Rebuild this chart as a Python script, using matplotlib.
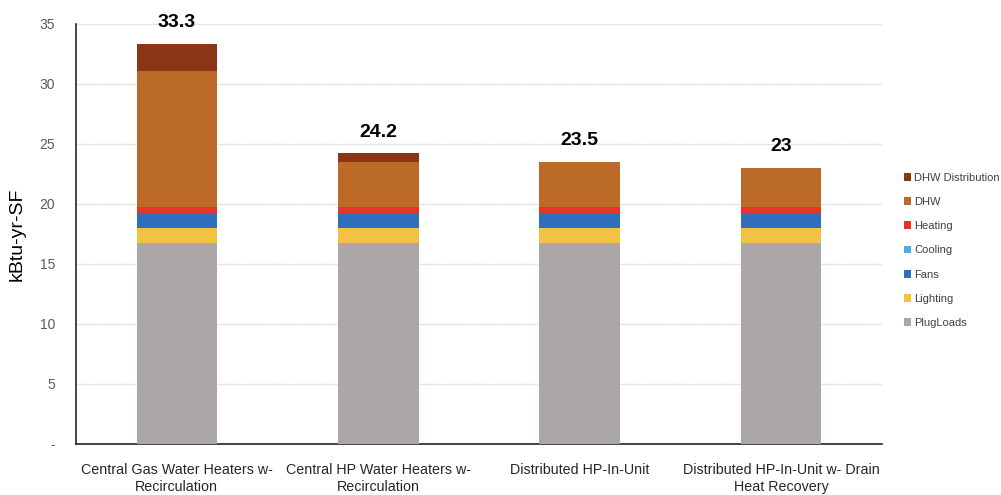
import numpy as np
import matplotlib.pyplot as plt
from matplotlib.ticker import FuncFormatter

plt.rcParams['font.family'] = ['Liberation Sans', 'DejaVu Sans']

categories = ['Central Gas Water Heaters w-\nRecirculation',
              'Central HP Water Heaters w-\nRecirculation',
              'Distributed HP-In-Unit',
              'Distributed HP-In-Unit w- Drain\nHeat Recovery']
plug_loads = [16.7, 16.7, 16.7, 16.7]
lighting = [1.3, 1.3, 1.3, 1.3]
fans = [1.15, 1.15, 1.15, 1.15]
cooling = [0.0, 0.0, 0.0, 0.0]
heating = [0.55, 0.55, 0.55, 0.55]
dhw = [11.4, 3.8, 3.8, 3.3]
dhw_dist = [2.2, 0.7, 0.0, 0.0]
totals = [33.3, 24.2, 23.5, 23]

series = [('PlugLoads', plug_loads, '#aba7a8'),
          ('Lighting', lighting, '#f4c242'),
          ('Fans', fans, '#2f6eba'),
          ('Cooling', cooling, '#4bace8'),
          ('Heating', heating, '#e8332a'),
          ('DHW', dhw, '#bc6a27'),
          ('DHW Distribution', dhw_dist, '#8b3716')]

fig = plt.figure(figsize=(10.01, 4.95), dpi=100)
ax = fig.add_axes([0.076, 0.103, 0.805, 0.849])

x = np.arange(len(categories))
bottom = np.zeros(len(categories))
handles = []
for name, vals, col in series:
    b = ax.bar(x, vals, 0.4, bottom=bottom, color=col, label=name, zorder=3)
    handles.append(b)
    bottom += np.array(vals)

# totals above each stack
for xi, t in zip(x, totals):
    ax.text(xi, t + 1.4, f'{t:g}', ha='center', va='baseline',
            fontsize=14, fontweight='bold', color='black')

ax.set_xlim(-0.5, 3.5)
ax.set_ylim(0, 35)
ax.set_yticks(np.arange(0, 36, 5))
ax.yaxis.set_major_formatter(FuncFormatter(lambda v, p: '-' if v == 0 else f'{v:g}'))
ax.set_xticks(x)
ax.set_xticklabels(categories, fontsize=10.3, color='#262626')
ax.tick_params(axis='y', labelsize=10, labelcolor='#595959', length=0, pad=15)
ax.tick_params(axis='x', length=0, pad=14)
ax.grid(axis='y', color='#d9d9d9', linestyle=(0, (1, 0.5)), linewidth=1, zorder=0)
ax.set_ylabel('kBtu-yr-SF', fontsize=14, labelpad=10)

for s in ['top', 'right']:
    ax.spines[s].set_visible(False)
for s in ['left', 'bottom']:
    ax.spines[s].set_color('#262626')
    ax.spines[s].set_linewidth(1.2)

leg = fig.legend(handles[::-1], [h.get_label() for h in handles[::-1]],
                 loc='center left', bbox_to_anchor=(0.893, 0.494), frameon=False,
                 fontsize=8, handlelength=0.6, handleheight=0.7,
                 handletextpad=0.35, labelspacing=1.28, labelcolor='#404040')

fig.savefig('out.png', dpi=100)
